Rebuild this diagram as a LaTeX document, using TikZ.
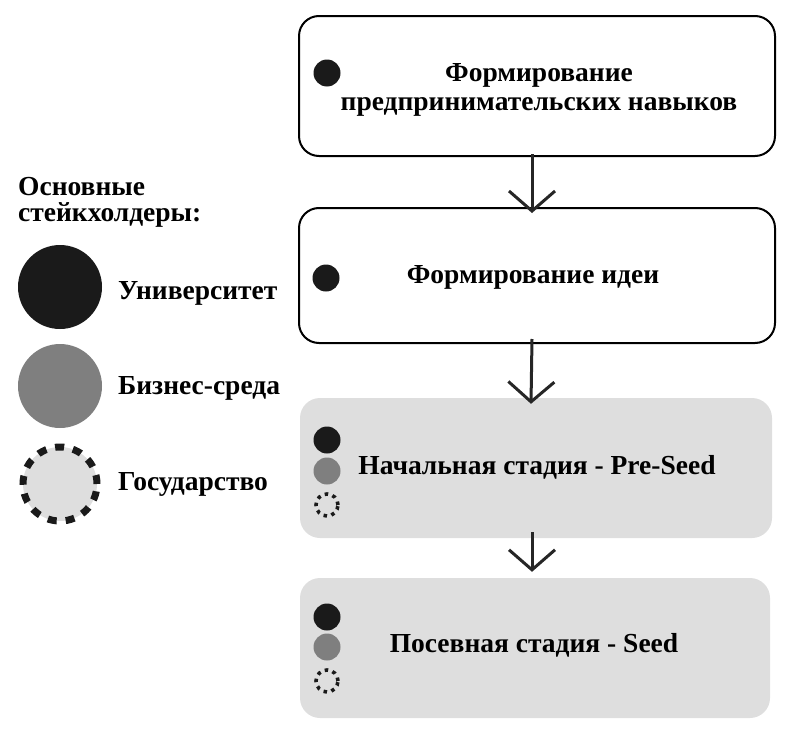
\documentclass[tikz,border=0pt]{standalone}
\usepackage{fontspec}
\setmainfont{Liberation Serif}
\usetikzlibrary{arrows.meta}
\definecolor{boxgray}{HTML}{DEDEDE}
\definecolor{dotgray}{HTML}{7F7F7F}
\definecolor{dotblack}{HTML}{1A1A1A}
\tikzset{
  txt/.style={font=\fontsize{27.5}{29}\selectfont\bfseries},
  stage/.style={draw=black, line width=2pt, rounded corners=20pt, fill=white},
  graystage/.style={rounded corners=20pt, fill=boxgray},
  lbl/.style={txt, anchor=west, inner sep=0pt},
  bigblack/.style={circle, fill=dotblack, minimum size=84pt, inner sep=0pt},
  biggray/.style={circle, fill=dotgray, minimum size=84pt, inner sep=0pt},
  bigdash/.style={circle, fill=boxgray, draw=dotblack, line width=7pt, dash pattern=on 9pt off 9pt, minimum size=74pt, inner sep=0pt},
  sblack/.style={circle, fill=dotblack, minimum size=27pt, inner sep=0pt},
  sgray/.style={circle, fill=dotgray, minimum size=27pt, inner sep=0pt},
  sdash/.style={circle, draw=dotblack, line width=3.6pt, dash pattern=on 3.5pt off 4.5pt, minimum size=22pt, inner sep=0pt},
  arr/.style={draw=black!85, line width=3pt, -{Straight Barb[length=20pt, width=46pt, line width=3pt]}},
}
\begin{document}
\begin{tikzpicture}[x=1pt, y=-1pt]
\useasboundingbox (0,0) rectangle (798,736);
% stage boxes
\node[stage, minimum width=476pt, minimum height=140pt] (b1) at (537,86) {};
\node[stage, minimum width=476pt, minimum height=135pt] (b2) at (537,275.5) {};
\node[graystage, minimum width=472pt, minimum height=140pt] (b3) at (536,468) {};
\node[graystage, minimum width=470pt, minimum height=140pt] (b4) at (535,648) {};
% texts
\node[txt, align=center] (t1) at (539,90) {Формирование\\предпринимательских навыков};
\node[txt] (t2) at (533,277) {Формирование идеи};
\node[txt] (t3) at (537,467) {Начальная стадия - Pre-Seed};
\node[txt] (t4) at (534,645) {Посевная стадия - Seed};
% dots in boxes
\node[sblack] (d1) at (327,73) {};
\node[sblack] (d2) at (326,278) {};
\node[sblack] (d3a) at (327,440) {};
\node[sgray] (d3b) at (327,471) {};
\node[sdash] (d3c) at (327,505) {};
\node[sblack] (d4a) at (327,617) {};
\node[sgray] (d4b) at (327,647) {};
\node[sdash] (d4c) at (327,681) {};
% arrows
\draw[arr] ([xshift=-5pt,yshift=3pt]b1.south) -- ([xshift=-5pt,yshift=-6pt]b2.north);
\draw[arr] ([xshift=-5pt,yshift=5pt]b2.south) -- ([xshift=-5pt,yshift=-6pt]b3.north);
\draw[arr] ([xshift=-4pt,yshift=6pt]b3.south) -- ([xshift=-3pt,yshift=6pt]b4.north);
% legend
\node[lbl] (lt1) at (18,187) {Основные};
\node[lbl] (lt2) at (18,215) {стейкхолдеры:};
\node[bigblack] (c1) at (60,287) {};
\node[biggray] (c2) at (60,386) {};
\node[bigdash] (c3) at (60,484) {};
\node[lbl] (l1) at (118,293) {Университет};
\node[lbl] (l2) at (118,388) {Бизнес-среда};
\node[lbl] (l3) at (118,484) {Государство};
\end{tikzpicture}
\end{document}
